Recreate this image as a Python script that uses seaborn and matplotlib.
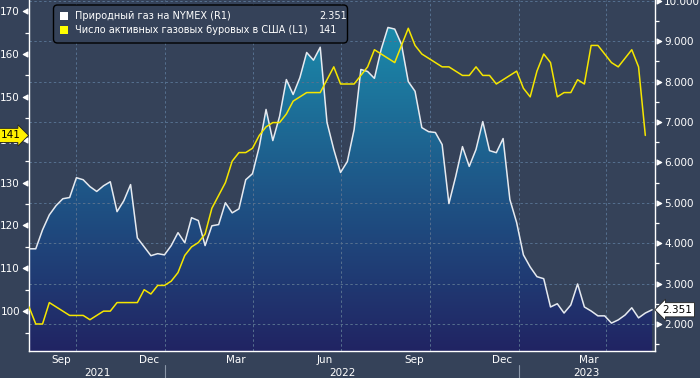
import numpy as np
import pandas as pd
import matplotlib
matplotlib.use('Agg')
import matplotlib.pyplot as plt
import matplotlib.dates as mdates
import matplotlib.transforms as mtransforms
from matplotlib.colors import LinearSegmentedColormap
from matplotlib.patches import FancyBboxPatch, Rectangle
from matplotlib.path import Path
from matplotlib.ticker import FixedLocator, FuncFormatter, NullFormatter
import seaborn as sns

# weekly values
gas_price = [3.86, 3.86, 4.33, 4.70, 4.93, 5.10, 5.13, 5.62, 5.57, 5.40,
             5.28, 5.42, 5.52, 4.78, 5.05, 5.45, 4.13, 3.91, 3.69, 3.74,
             3.71, 3.94, 4.26, 4.01, 4.63, 4.56, 3.94, 4.43, 4.46, 5.00,
             4.75, 4.85, 5.57, 5.72, 6.39, 7.31, 6.54, 7.14, 8.05, 7.68,
             8.10, 8.72, 8.53, 8.85, 6.99, 6.32, 5.75, 6.02, 6.81, 8.30,
             8.25, 8.08, 8.80, 9.34, 9.30, 8.92, 8.00, 7.76, 6.86, 6.76,
             6.74, 6.44, 4.98, 5.65, 6.39, 5.90, 6.32, 7.01, 6.29, 6.24,
             6.59, 5.08, 4.51, 3.71, 3.41, 3.17, 3.12, 2.42, 2.50, 2.27,
             2.47, 2.99, 2.42, 2.32, 2.20, 2.20, 2.02, 2.10, 2.22, 2.40,
             2.15, 2.27, 2.351]
rig_count = [101, 97, 97, 102, 101, 100, 99, 99, 99, 98,
             99, 100, 100, 102, 102, 102, 102, 105, 104, 106,
             106, 107, 109, 113, 115, 116, 118, 124, 127, 130,
             135, 137, 137, 138, 141, 143, 144, 144, 146, 149,
             150, 151, 151, 151, 154, 157, 153, 153, 153, 155,
             157, 161, 160, 159, 158, 162, 166, 162, 160, 159,
             158, 157, 157, 156, 155, 155, 157, 155, 155, 153,
             154, 155, 156, 152, 150, 156, 160, 158, 150, 151,
             151, 154, 153, 162, 162, 160, 158, 157, 159, 161,
             157, 141]
gas_dates = pd.date_range('2021-08-13', periods=len(gas_price), freq='7D')
rig_dates = pd.date_range('2021-08-13', periods=len(rig_count), freq='7D')

gas_label = 'Природный газ на NYMEX (R1)'
rig_label = 'Число активных газовых буровых в США (L1)'
gas_ticks = [2, 3, 4, 5, 6, 7, 8, 9, 10]
gas_minor = [1.5, 2.5, 3.5, 4.5, 5.5, 6.5, 7.5, 8.5, 9.5]
rig_ticks = [100, 110, 120, 130, 140, 150, 160, 170]
rig_minor = [95, 105, 115, 125, 135, 145, 155, 165]
years = [2021, 2022, 2023]

x_start, x_end = pd.Timestamp('2021-08-13'), pd.Timestamp('2023-05-22')
gas_lim = (1.33, 10.02)
rig_lim = (90.7, 172.6)

bg = '#354259'
grid_col = '#56708f'
yellow = '#f5e600'
sns.set_style('dark', {'axes.facecolor': bg, 'figure.facecolor': bg,
                       'axes.edgecolor': 'white', 'text.color': 'white',
                       'xtick.color': 'white', 'ytick.color': 'white'})
plt.rcParams['font.family'] = ['DejaVu Sans']

fig = plt.figure(figsize=(7, 3.78), dpi=100)
ax = fig.add_axes([29 / 700, 27 / 378, 626 / 700, 351 / 378])
ax2 = ax.twinx()

# gas price on the host axes (right scale)
df_gas = pd.DataFrame({'date': gas_dates, 'price': gas_price})
sns.lineplot(data=df_gas, x='date', y='price', ax=ax, color='#e6eaf0', lw=1.1, zorder=4)
poly = ax.fill_between(gas_dates, gas_price, gas_lim[0], color='none', lw=0)
cmap = LinearSegmentedColormap.from_list('gas', ['#212463', '#1e5a8a', '#1a93b1'])
grad = np.linspace(0, 1, 256).reshape(-1, 1)
img = ax.imshow(grad, aspect='auto', cmap=cmap, origin='lower', zorder=1,
                extent=[mdates.date2num(x_start), mdates.date2num(x_end), gas_lim[0], gas_lim[1]])
img.set_clip_path(poly.get_paths()[0], transform=ax.transData)

ax.set_xlim(x_start, x_end)
ax.set_ylim(gas_lim)
ax.set_xlabel('')
ax.set_ylabel('')
ax.set_axisbelow(False)

# grid
for v in gas_ticks:
    ax.axhline(v, color=grid_col, lw=0.7, ls=(0, (2.5, 2.5)), zorder=2)
for d in pd.date_range('2021-10-01', '2023-04-01', freq='QS'):
    ax.axvline(d, color=grid_col, lw=0.7, ls=(0, (2.5, 2.5)), zorder=2)

ax.yaxis.set_ticks_position('right')
ax.yaxis.set_label_position('right')
ax.yaxis.set_major_locator(FixedLocator(gas_ticks))
ax.yaxis.set_minor_locator(FixedLocator(gas_minor))
ax.yaxis.set_major_formatter(FuncFormatter(lambda v, p: f'{v:.3f}'))
ax.tick_params(axis='y', which='major', direction='in', length=9, pad=6.5,
               labelsize=7.5, colors='white', left=False, labelleft=False,
               right=True, labelright=True)
ax.tick_params(axis='y', which='minor', direction='out', length=3, width=0.9, colors='white',
               left=False, right=True)

ax.xaxis.set_major_locator(mdates.MonthLocator())
ax.xaxis.set_major_formatter(NullFormatter())
ax.xaxis.set_minor_locator(mdates.MonthLocator(bymonth=[3, 6, 9, 12], bymonthday=15))
ax.xaxis.set_minor_formatter(mdates.DateFormatter('%b'))
ax.tick_params(axis='x', which='major', direction='out', length=3, width=0.9, colors='white')
ax.tick_params(axis='x', which='minor', length=0, pad=3, labelsize=7.5, colors='white')

for s in ['left', 'right', 'bottom']:
    ax.spines[s].set_color('white')
    ax.spines[s].set_linewidth(1.0)
ax.spines['top'].set_visible(False)

# rig count on the twin axes (left scale)
df_rig = pd.DataFrame({'date': rig_dates, 'rigs': rig_count})
sns.lineplot(data=df_rig, x='date', y='rigs', ax=ax2, color=yellow, lw=1.1)
ax2.set_ylabel('')
ax2.set_xlim(x_start, x_end)
ax2.set_ylim(rig_lim)
ax2.yaxis.set_ticks_position('left')
ax2.yaxis.set_major_locator(FixedLocator(rig_ticks))
ax2.yaxis.set_minor_locator(FixedLocator(rig_minor))
ax2.tick_params(axis='y', which='major', direction='in', length=9, pad=6.5,
                labelsize=7.5, colors='white', left=True, labelleft=True,
                right=False, labelright=False)
ax2.tick_params(axis='y', which='minor', direction='out', length=3, width=0.9, colors='white',
                left=True, right=False)
for s in ax2.spines.values():
    s.set_visible(False)

# triangle markers for the major y ticks
tri_left = Path([(-1.0, 0), (-0.25, 0.4), (-0.25, -0.4), (-1.0, 0)],
                [Path.MOVETO, Path.LINETO, Path.LINETO, Path.CLOSEPOLY])
tri_right = Path([(1.0, 0), (0.25, 0.4), (0.25, -0.4), (1.0, 0)],
                 [Path.MOVETO, Path.LINETO, Path.LINETO, Path.CLOSEPOLY])
for t in ax2.yaxis.get_major_ticks():
    t.tick1line.set_marker(tri_left)
    t.tick1line.set_markersize(9)
    t.tick1line.set_markerfacecolor('white')
    t.tick1line.set_markeredgecolor('white')
for t in ax.yaxis.get_major_ticks():
    t.tick2line.set_marker(tri_right)
    t.tick2line.set_markersize(9)
    t.tick2line.set_markerfacecolor('white')
    t.tick2line.set_markeredgecolor('white')

# year row under the month labels
bt = mtransforms.blended_transform_factory(ax.transData, ax.transAxes)
for y in years:
    a = max(pd.Timestamp(f'{y}-01-01'), x_start)
    b = min(pd.Timestamp(f'{y + 1}-01-01'), x_end)
    ax.text(a + (b - a) / 2, -0.062, str(y), transform=bt, ha='center', va='center',
            fontsize=7.5, color='white')
    if pd.Timestamp(f'{y}-01-01') > x_start:
        ax.plot([pd.Timestamp(f'{y}-01-01')] * 2, [-0.04, -0.08], transform=bt,
                color='#8a96a8', lw=0.8, clip_on=False)

# last value tags
lt = mtransforms.blended_transform_factory(ax2.transAxes, ax2.transData)
ax2.text(-0.013, rig_count[-1], f'{rig_count[-1]}', transform=lt, ha='right', va='center',
         fontsize=7.5, color='black', clip_on=False, zorder=10,
         bbox=dict(boxstyle='rarrow,pad=0.2', fc='#fff000', ec='#222222', lw=0.6))
rt = mtransforms.blended_transform_factory(ax.transAxes, ax.transData)
ax.text(1.012, gas_price[-1], f'{gas_price[-1]:.3f}', transform=rt, ha='left', va='center',
        fontsize=7.5, color='black', clip_on=False, zorder=10,
        bbox=dict(boxstyle='larrow,pad=0.2', fc='white', ec='#222222', lw=0.6))

# legend box
tr = fig.dpi_scale_trans
fig.add_artist(FancyBboxPatch((0.535, 3.35), 2.94, 0.38, boxstyle='round,pad=0,rounding_size=0.04',
                              transform=tr, fc=bg, ec='black', lw=1.0, zorder=20))
fig.add_artist(Rectangle((0.60, 3.58), 0.08, 0.08, transform=tr, fc='white', ec='none', zorder=21))
fig.add_artist(Rectangle((0.60, 3.44), 0.08, 0.08, transform=tr, fc='#ffff00', ec='none', zorder=21))
fig.text(0.75, 3.62, gas_label, transform=tr, va='center', fontsize=7, color='white', zorder=21)
fig.text(0.75, 3.48, rig_label, transform=tr, va='center', fontsize=7, color='white', zorder=21)
fig.text(3.19, 3.62, f'{gas_price[-1]:.3f}', transform=tr, va='center', fontsize=7, color='white', zorder=21)
fig.text(3.19, 3.48, f'{rig_count[-1]}', transform=tr, va='center', fontsize=7, color='white', zorder=21)

fig.savefig('out.png', dpi=100, facecolor=bg)
